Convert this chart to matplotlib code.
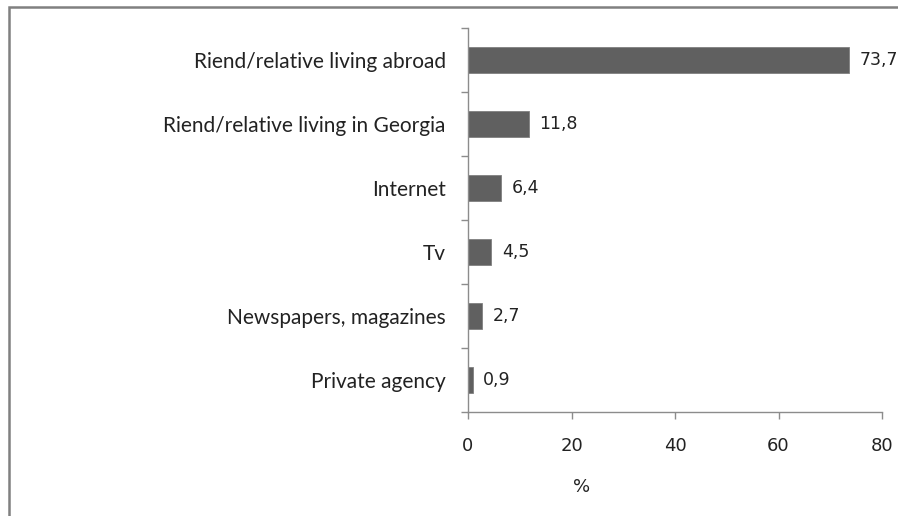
import matplotlib
matplotlib.use("Agg")
import matplotlib.pyplot as plt
from matplotlib.patches import Rectangle

# sources of information, bottom to top
categories = ["Private agency", "Newspapers, magazines", "Tv", "Internet",
              "Riend/relative living in Georgia", "Riend/relative living abroad"]
values = [0.9, 2.7, 4.5, 6.4, 11.8, 73.7]
value_labels = ["0,9", "2,7", "4,5", "6,4", "11,8", "73,7"]
xticks = [0, 20, 40, 60, 80]

W, H = 898, 516
fig = plt.figure(figsize=(W / 100, H / 100), dpi=100)
ax = fig.add_axes([468 / W, (H - 412) / H, (882 - 468) / W, (412 - 28) / H])

bar_color = "#606060"
axis_color = "#8c8c8c"
text_color = "#222222"

pos = list(range(len(categories)))
ax.barh(pos, values, height=0.4, color=bar_color, edgecolor="#808080", linewidth=0.6)

for p, v, lab in zip(pos, values, value_labels):
    ax.annotate(lab, (v, p), xytext=(7.5, 0), textcoords="offset points",
                va="center", ha="left", fontsize=12.5, color=text_color,
                family="DejaVu Sans", annotation_clip=False)

ax.set_xlim(0, 80)
ax.set_ylim(-0.5, len(categories) - 0.5)

# ticks on category boundaries, labels in between
ax.set_yticks([p - 0.5 for p in pos] + [len(categories) - 0.5])
ax.set_yticklabels([])
ax.set_yticks(pos, minor=True)
ax.set_yticklabels(categories, minor=True, family="Lato", fontsize=15, color=text_color)
ax.tick_params(axis="y", which="minor", length=0, pad=16)
ax.tick_params(axis="y", which="major", length=5, color=axis_color, width=1)

ax.set_xticks(xticks)
ax.set_xticklabels([str(t) for t in xticks], family="DejaVu Sans", fontsize=13, color=text_color)
ax.tick_params(axis="x", length=5, color=axis_color, width=1, pad=13)

ax.set_xlabel("%", family="DejaVu Sans", fontsize=13, color=text_color)
ax.xaxis.set_label_coords((582 - 468) / (882 - 468), -(478 - 412) / (412 - 28))

for side in ["top", "right"]:
    ax.spines[side].set_visible(False)
for side in ["left", "bottom"]:
    ax.spines[side].set_color(axis_color)
    ax.spines[side].set_linewidth(1)

# outer chart border
fig.patches.append(Rectangle((9 / W, -0.05), 1.0, 1 - 7 / H + 0.05, transform=fig.transFigure,
                             fill=False, edgecolor="#808080", linewidth=1.8))

fig.savefig("out.png", dpi=100)
